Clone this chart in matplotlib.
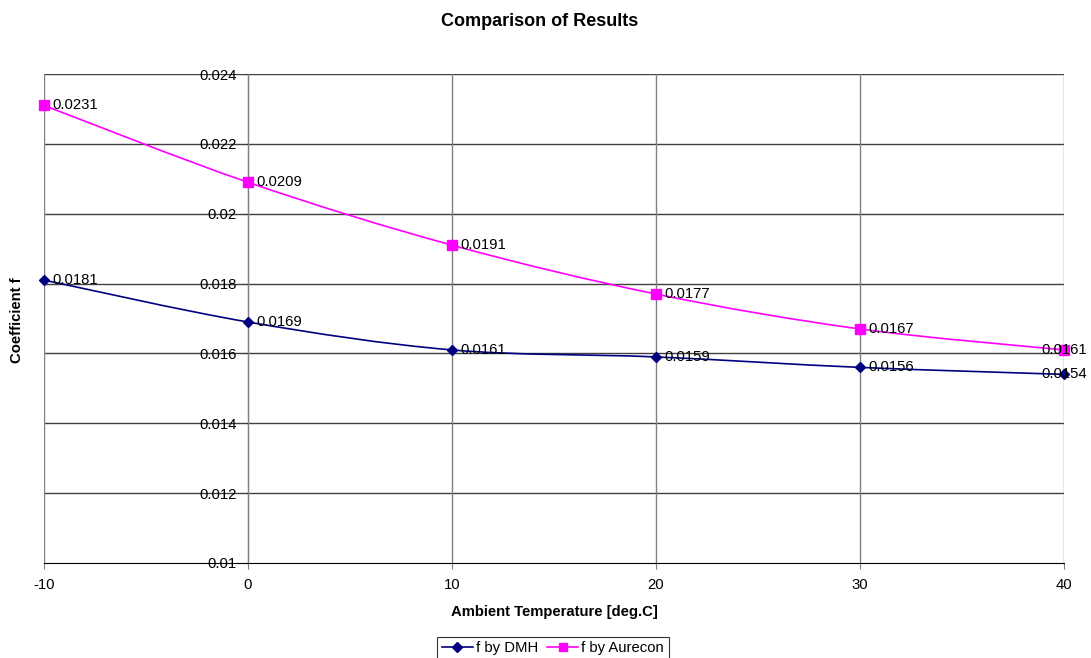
import matplotlib
matplotlib.use("Agg")
from matplotlib import pyplot as plt
from matplotlib.path import Path
from matplotlib.patches import PathPatch
import numpy as np

temps = [-10, 0, 10, 20, 30, 40]
f_dmh = [0.0181, 0.0169, 0.0161, 0.0159, 0.0156, 0.0154]
f_aurecon = [0.0231, 0.0209, 0.0191, 0.0177, 0.0167, 0.0161]
yticks = [0.01, 0.012, 0.014, 0.016, 0.018, 0.02, 0.022, 0.024]

plt.rcParams['font.family'] = ['Liberation Sans', 'DejaVu Sans']
plt.rcParams['axes.unicode_minus'] = False

def smooth_path(xs, ys):
    # excel style smoothed line: catmull-rom turned into cubic bezier segments
    p = np.column_stack((xs, ys)).astype(float)
    verts = [p[0]]
    codes = [Path.MOVETO]
    n = len(p)
    for i in range(n - 1):
        p0 = p[i - 1] if i > 0 else p[i]
        p3 = p[i + 2] if i + 2 < n else p[i + 1]
        c1 = p[i] + (p[i + 1] - p0) / 6
        c2 = p[i + 1] - (p3 - p[i]) / 6
        verts += [c1, c2, p[i + 1]]
        codes += [Path.CURVE4] * 3
    return Path(verts, codes)

fs = 10.7

fig = plt.figure(figsize=(10.91, 6.58), dpi=100)
ax = fig.add_axes([44/1091, 1 - 563/658, 1020/1091, 489/658])

ax.set_xlim(-10, 40)
ax.set_ylim(0.01, 0.024)
ax.set_xticks(temps)
ax.set_yticks(yticks)
ax.set_yticklabels(['%g' % v for v in yticks])

for v in yticks[1:]:
    ax.axhline(v, color='#404040', lw=1.0, zorder=1)
for v in temps:
    ax.axvline(v, color='#808080', lw=1.0, zorder=1)

for s in ['top', 'right']:
    ax.spines[s].set_visible(False)
ax.spines['left'].set_position(('data', 0))
ax.spines['left'].set_color('#808080')
ax.spines['bottom'].set_color('black')
ax.tick_params(axis='y', direction='out', length=3, color='#404040', labelsize=fs, pad=5)
ax.tick_params(axis='x', direction='out', length=4, color='#808080', labelsize=fs, pad=7)

series = [(f_dmh, '#000080', 'D', 5.5, 'f by DMH'),
          (f_aurecon, '#FF00FF', 's', 6.5, 'f by Aurecon')]
for vals, col, mk, ms, name in series:
    ax.add_patch(PathPatch(smooth_path(temps, vals), fill=False, edgecolor=col,
                           lw=1.2, zorder=3, clip_on=False))
    ax.plot(temps, vals, linestyle='none', marker=mk, ms=ms, color=col,
            zorder=4, clip_on=False)
    for i, (x, y) in enumerate(zip(temps, vals)):
        last = i == len(temps) - 1
        ax.annotate('%g' % y, (x, y), xytext=(0 if last else 6, 0),
                    textcoords='offset points', ha='center' if last else 'left',
                    va='center', fontsize=fs, zorder=5, annotation_clip=False)

ax.set_xlabel('Ambient Temperature [deg.C]', fontsize=10.75, fontweight='bold', labelpad=9)
fig.text(17/1091, 1 - 320/658, 'Coefficient f', rotation=90, ha='center', va='center',
         fontsize=10.75, fontweight='bold')
fig.text(540/1091, 1 - 22/658, 'Comparison of Results', ha='center', va='center',
         fontsize=13, fontweight='bold')

handles = [plt.Line2D([], [], color=c, marker=m, ms=ms - 0.5, lw=1.2) for _, c, m, ms, _ in series]
leg = fig.legend(handles, [s[4] for s in series], loc='upper center',
                 bbox_to_anchor=(553/1091, 1 - 637/658), ncol=2, frameon=True,
                 fancybox=False, edgecolor='black', fontsize=fs, handlelength=2.1,
                 columnspacing=0.6, handletextpad=0.2, borderpad=0.3, borderaxespad=0)
leg.get_frame().set_linewidth(0.8)

fig.savefig('out.png', dpi=100)
